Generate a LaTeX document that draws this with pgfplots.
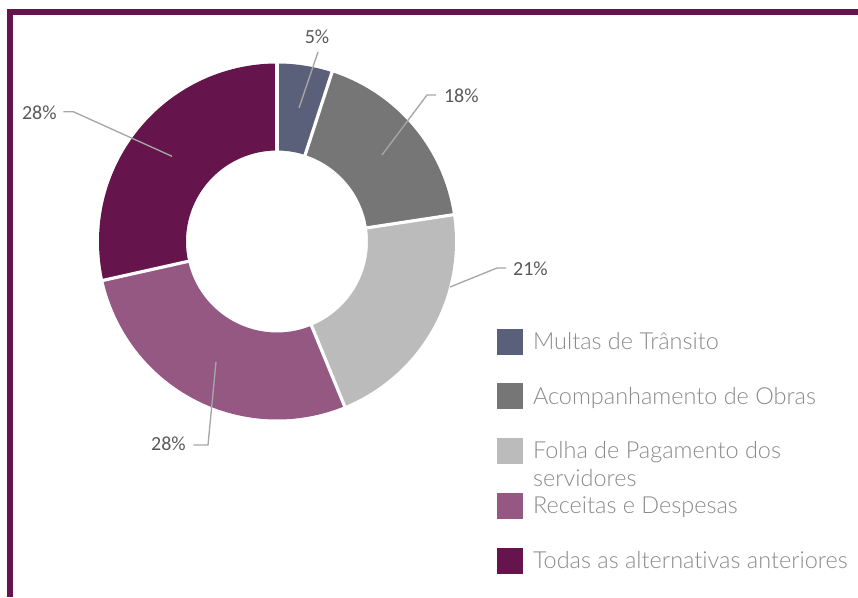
\documentclass[border=0pt]{standalone}
\usepackage{fontspec}
\setmainfont{Carlito}
\newfontfamily\lfont[Ligatures=NoCommon]{Lato Light}
\usepackage{pgfplots}
\pgfplotsset{compat=1.18}
\definecolor{cMul}{HTML}{5A6079}
\definecolor{cAco}{HTML}{767676}
\definecolor{cFol}{HTML}{BBBBBB}
\definecolor{cRec}{HTML}{945882}
\definecolor{cTod}{HTML}{65154C}
\definecolor{frm}{HTML}{65154C}
\definecolor{lbl}{HTML}{595959}
\definecolor{lead}{HTML}{A6A6A6}
\definecolor{leg}{HTML}{8A8A8A}
% slice values (percent), clockwise from 12 o'clock
\def\vA{5.0}\def\vB{17.6}\def\vC{21.2}\def\vD{27.7}\def\vE{28.5}
\begin{document}
\begin{tikzpicture}[pct/.style={text=lbl, inner sep=0pt, font=\fontsize{15pt}{18pt}\selectfont}]
\begin{axis}[hide axis, scale only axis, width=643.5pt, height=447.75pt,
 xmin=-277, xmax=581, ymin=-355.5, ymax=241.5, clip=true,
 legend image code/.code={\fill[#1, draw=none, line width=0pt] (0pt,-4.05pt) rectangle (19.5pt,15.45pt);},
 legend style={at={(rel axis cs:0.5793,0.4494)}, anchor=north west, draw=none, fill=none,
   inner sep=0pt, outer sep=0pt, row sep=21.56pt, column sep=7.5pt,
   cells={anchor=base west},
   nodes={inner sep=0pt, text height=12pt, text depth=4pt, text=leg,
          font=\lfont\fontsize{17.6pt}{21pt}\selectfont}},
]
% frame
\addplot[frm, line width=4pt, forget plot] coordinates {(-267,-355.5) (-267,229.5) (581,229.5)};
% donut slices (thick arcs at mid radius, polar data)
\addplot[cMul, line width=65.25pt, data cs=polar, samples=30,
  domain={90-3.6*\vA}:{90}] ({x},{134.5});
\addlegendentry{Multas de Trânsito}
\addplot[cAco, line width=65.25pt, data cs=polar, samples=60,
  domain={90-3.6*(\vA+\vB)}:{90-3.6*\vA}] ({x},{134.5});
\addlegendentry{Acompanhamento de Obras}
\addplot[cFol, line width=65.25pt, data cs=polar, samples=60,
  domain={90-3.6*(\vA+\vB+\vC)}:{90-3.6*(\vA+\vB)}] ({x},{134.5});
\addlegendentry{\parbox[t]{250pt}{Folha de Pagamento dos\\servidores}}
\addplot[cRec, line width=65.25pt, data cs=polar, samples=80,
  domain={90-3.6*(\vA+\vB+\vC+\vD)}:{90-3.6*(\vA+\vB+\vC)}] ({x},{134.5});
\addlegendentry{Receitas e Despesas}
\addplot[cTod, line width=65.25pt, data cs=polar, samples=80,
  domain={-270}:{90-3.6*(\vA+\vB+\vC+\vD)}] ({x},{134.5});
\addlegendentry{Todas as alternativas anteriores}
% white separators
\addplot[white, line width=2.4pt, data cs=polar, forget plot] coordinates {(90,88) (90,182)};
\addplot[white, line width=2.4pt, data cs=polar, forget plot] coordinates {(72,88) (72,182)};
\addplot[white, line width=2.4pt, data cs=polar, forget plot] coordinates {(8.64,88) (8.64,182)};
\addplot[white, line width=2.4pt, data cs=polar, forget plot] coordinates {(-67.68,88) (-67.68,182)};
\addplot[white, line width=2.4pt, data cs=polar, forget plot] coordinates {(-167.4,88) (-167.4,182)};
% leader lines
\addplot[lead, line width=1pt, forget plot] coordinates {(22,133.5) (41,189.5)};
\addplot[lead, line width=1pt, forget plot] coordinates {(105,86.5) (150,146.5) (159,146.5)};
\addplot[lead, line width=1pt, forget plot] coordinates {(173,-45.5) (220,-26.5) (229,-26.5)};
\addplot[lead, line width=1pt, forget plot] coordinates {(-61,-120.5) (-69,-203.5) (-83.7,-203.5)};
\addplot[lead, line width=1pt, forget plot] coordinates {(-105,85.2) (-203.7,129.8) (-213.7,129.8)};
% data labels
\node[pct] at (axis cs:40,205.2) {5\%};
\node[pct] at (axis cs:184.3,145.8) {18\%};
\node[pct] at (axis cs:253.5,-26.8) {21\%};
\node[pct] at (axis cs:-108.5,-202.5) {28\%};
\node[pct] at (axis cs:-237.7,128.8) {28\%};
\end{axis}
\pgfresetboundingbox
\useasboundingbox (current axis.south west) rectangle (current axis.north east);
\end{tikzpicture}
\end{document}
